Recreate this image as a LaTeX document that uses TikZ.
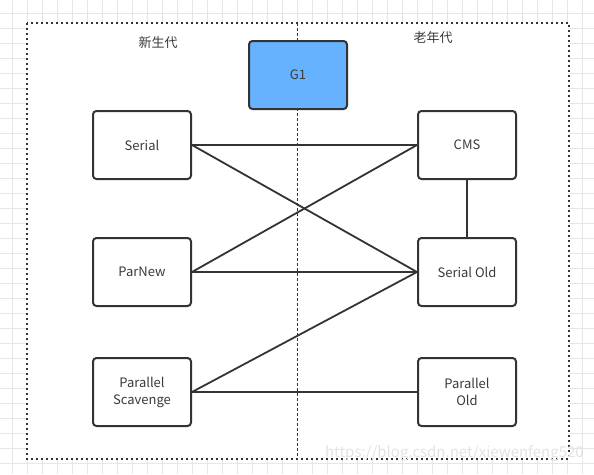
\documentclass[tikz,border=0pt]{standalone}
\usepackage{fontspec}
\setmainfont{Noto Sans CJK SC}
\definecolor{dk}{HTML}{333333}
\definecolor{txt}{HTML}{3A3A3A}
\definecolor{gridc}{HTML}{E6E6E6}
\definecolor{gone}{HTML}{66B2FF}
\begin{document}
\begin{tikzpicture}[x=1pt,y=-1pt,
  box/.style={draw=dk, line width=2pt, rounded corners=3.5pt, minimum width=98pt, minimum height=68pt,
    fill=white, text=txt, font=\fontsize{13}{17}\selectfont, align=center, inner sep=0pt},
  conn/.style={draw=dk, line width=1.8pt},
  lbl/.style={text=txt, font=\fontsize{13}{17}\selectfont, inner sep=0pt}]
\useasboundingbox (0,0) rectangle (594,474);
\fill[white] (0,0) rectangle (594,474);
\foreach \x in {12.7,27.7,...,594} \draw[gridc, line width=1pt] (\x,0) -- (\x,474);
\foreach \y in {13.3,28.3,...,474} \draw[gridc, line width=1pt] (0,\y) -- (594,\y);
\fill[white] (27,23) rectangle (569,459);
\draw[dk, line width=2pt, dash pattern=on 2pt off 3pt] (27,23) rectangle (569,459);
\coordinate (dtop) at (297.7,23);
\coordinate (dbot) at (297.7,459);
\draw[dk, line width=1.4pt, dash pattern=on 3pt off 2pt] (dtop) -- (dbot);
\node[lbl] (young) at (158,43) {新生代};
\node[lbl] (old) at (433,38) {老年代};
\node[box, fill=gone] (g1) at (298,75) {G1};
\node[box] (serial) at (142,145) {Serial};
\node[box] (cms) at (467,145) {CMS};
\node[box] (parnew) at (142,272) {ParNew};
\node[box] (serialold) at (467,272) {Serial Old};
\node[box] (ps) at (142,392) {Parallel\\Scavenge};
\node[box] (po) at (467,392) {Parallel\\Old};
\draw[conn] (serial.east) -- (cms.west);
\draw[conn] (serial.east) -- (serialold.west);
\draw[conn] (parnew.east) -- (cms.west);
\draw[conn] (parnew.east) -- (serialold.west);
\draw[conn] (ps.east) -- (serialold.west);
\draw[conn] (ps.east) -- (po.west);
\draw[conn] (cms.south) -- (serialold.north);
\node[text=gray!22, font=\fontsize{15}{18}\selectfont, anchor=east, inner sep=0pt] (wm) at (584,453) {https://blog.csdn.net/xiewenfeng520};
\end{tikzpicture}
\end{document}
